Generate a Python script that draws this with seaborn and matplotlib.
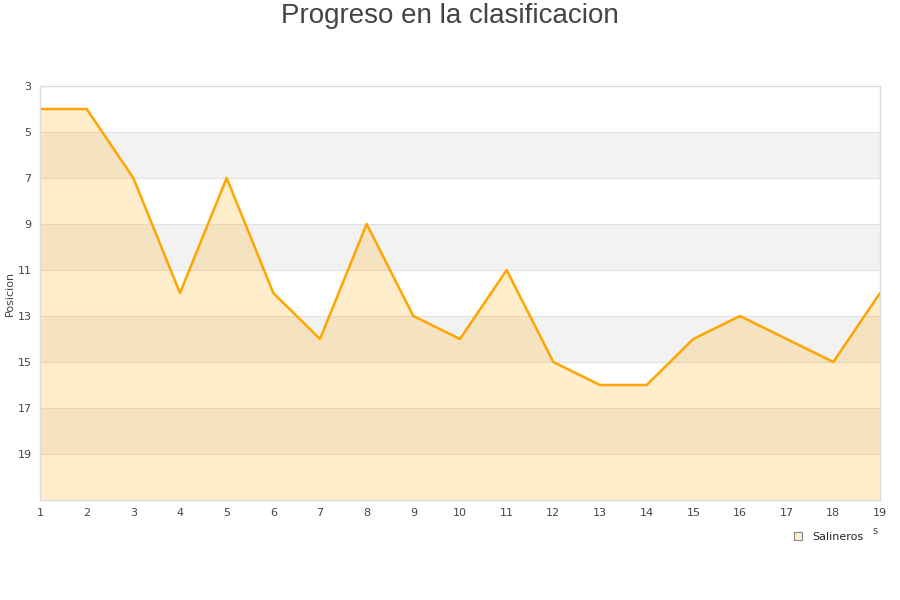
import matplotlib
matplotlib.use("Agg")
import matplotlib.pyplot as plt
import seaborn as sns
import pandas as pd
from matplotlib.lines import Line2D

jornadas = list(range(1, 20))
posicion = [4, 4, 7, 12, 7, 12, 14, 9, 13, 14, 11, 15, 16, 16, 14, 13, 14, 15, 12]
y_ticks = [3, 5, 7, 9, 11, 13, 15, 17, 19]
team = "Salineros"

sns.set_theme(style="white")
plt.rcParams['font.family'] = ['DejaVu Sans']

df = pd.DataFrame({"Jornada": jornadas, "Posicion": posicion})

fig = plt.figure(figsize=(9, 6), dpi=100)
ax = fig.add_axes([40/900, 1-500/600, 840/900, 414/600])

# alternating bands
for lo in [5, 9, 13, 17]:
    ax.axhspan(lo, lo + 2, color="#f2f2f2", zorder=0, lw=0)
for v in range(5, 21, 2):
    ax.axhline(v, color="#e2e2e2", lw=0.8, zorder=0.5)

ax.fill_between(df["Jornada"], df["Posicion"], 21, color="orange", alpha=0.2, lw=0, zorder=1)
sns.lineplot(data=df, x="Jornada", y="Posicion", color="orange", lw=1.8, ax=ax, zorder=2)

ax.set_xlim(1, 19)
ax.set_ylim(21, 3)
ax.set_xticks(jornadas)
ax.set_yticks(y_ticks)
ax.tick_params(axis="both", labelsize=8, colors="#444444", length=0, pad=6)
ax.set_xlabel("")
ax.set_ylabel("Posicion", fontsize=8, color="#444444", labelpad=2)
for s in ax.spines.values():
    s.set_color("#dddddd")
    s.set_linewidth(1)

fig.text(0.5, 0.995, "Progreso en la clasificacion", ha="center", va="top",
         fontsize=20, color="#444444", family="Liberation Sans")
fig.text(875/900, 1-531/600, "s", ha="center", va="center", fontsize=7, color="#444444")

handle = Line2D([], [], marker="s", ls="none", markersize=6,
                markerfacecolor="#ffedcc", markeredgecolor="#888888", markeredgewidth=0.8)
fig.legend([handle], [team], loc="center", bbox_to_anchor=(825/900, 1-537/600),
           frameon=False, fontsize=8, handletextpad=0.3, borderaxespad=0)

fig.savefig("out.png", dpi=100)
